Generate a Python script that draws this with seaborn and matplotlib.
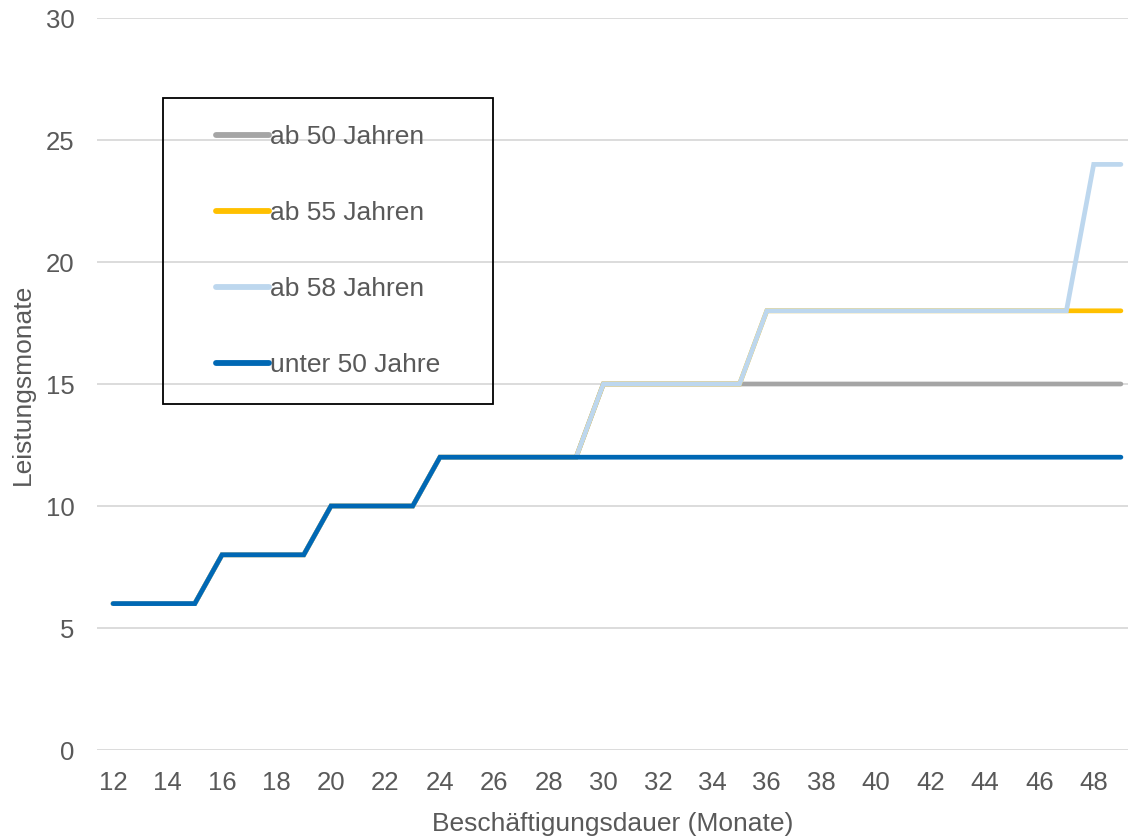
import numpy as np
import pandas as pd
import matplotlib
matplotlib.use('Agg')
import matplotlib.pyplot as plt
import seaborn as sns
from matplotlib.patches import Rectangle

# =========================
# DATA
# =========================
monate = list(range(12, 50))

unter_50 = [6, 6, 6, 6, 8, 8, 8, 8, 10, 10, 10, 10,
            12, 12, 12, 12, 12, 12, 12, 12, 12, 12, 12, 12, 12,
            12, 12, 12, 12, 12, 12, 12, 12, 12, 12, 12, 12, 12]
ab_50 = [6, 6, 6, 6, 8, 8, 8, 8, 10, 10, 10, 10,
         12, 12, 12, 12, 12, 12, 15, 15, 15, 15, 15, 15, 15,
         15, 15, 15, 15, 15, 15, 15, 15, 15, 15, 15, 15, 15]
ab_55 = [6, 6, 6, 6, 8, 8, 8, 8, 10, 10, 10, 10,
         12, 12, 12, 12, 12, 12, 15, 15, 15, 15, 15, 15, 18,
         18, 18, 18, 18, 18, 18, 18, 18, 18, 18, 18, 18, 18]
ab_58 = [6, 6, 6, 6, 8, 8, 8, 8, 10, 10, 10, 10,
         12, 12, 12, 12, 12, 12, 15, 15, 15, 15, 15, 15, 18,
         18, 18, 18, 18, 18, 18, 18, 18, 18, 18, 18, 24, 24]

gruppen = ['ab 50 Jahren', 'ab 55 Jahren', 'ab 58 Jahren', 'unter 50 Jahre']
farben = ['#A5A5A5', '#FFC000', '#BDD7EE', '#0068B4']

df = pd.concat([
    pd.DataFrame({'monat': monate, 'wert': w, 'gruppe': g})
    for g, w in zip(gruppen, [ab_50, ab_55, ab_58, unter_50])
], ignore_index=True)

# =========================
# PLOT
# =========================
sns.set_style('white')
plt.rcParams['font.family'] = ['Liberation Sans', 'DejaVu Sans']
TXT = '#595959'
FS = 19
FS_TICK = 18.5

W, H = 1128, 836
fig = plt.figure(figsize=(W / 100, H / 100), dpi=100)
ax = fig.add_axes([97 / W, 1 - 750 / H, (W - 97) / W, (750 - 18) / H])

sns.lineplot(data=df, x='monat', y='wert', hue='gruppe', hue_order=gruppen,
             palette=dict(zip(gruppen, farben)), linewidth=3.4, ax=ax,
             solid_capstyle='round', solid_joinstyle='miter')

ax.set_xlim(11.41, 49.26)
ax.set_ylim(0, 30)
ax.set_xticks(range(12, 50, 2))
ax.set_yticks(range(0, 31, 5))
ax.yaxis.grid(True, color='#D9D9D9', linewidth=1.3)
ax.set_axisbelow(True)
for s in ax.spines.values():
    s.set_visible(False)
ax.tick_params(axis='both', length=0, labelsize=FS_TICK, labelcolor=TXT)
ax.tick_params(axis='x', pad=15)
ax.tick_params(axis='y', pad=16)
ax.set_xlabel('Beschäftigungsdauer (Monate)', fontsize=FS, color=TXT, labelpad=12)
ax.set_ylabel('Leistungsmonate', fontsize=FS, color=TXT, labelpad=8)

handles, labels = ax.get_legend_handles_labels()
leg = ax.legend(handles, labels, loc='upper left', bbox_to_anchor=(216 / W, 1 - 125 / H),
                bbox_transform=fig.transFigure, frameon=False, fontsize=FS,
                labelspacing=1.97, handlelength=2.0, handletextpad=0.05,
                borderpad=0, borderaxespad=0)
for t in leg.get_texts():
    t.set_color(TXT)
for h in leg.legend_handles:
    h.set_linewidth(4.2)
    h.set_solid_capstyle('round')

fig.patches.append(Rectangle((163 / W, 1 - 404 / H), 330 / W, 306 / H,
                             transform=fig.transFigure, fill=False,
                             edgecolor='black', linewidth=1.3, zorder=5))

fig.savefig('out.png', dpi=100)
